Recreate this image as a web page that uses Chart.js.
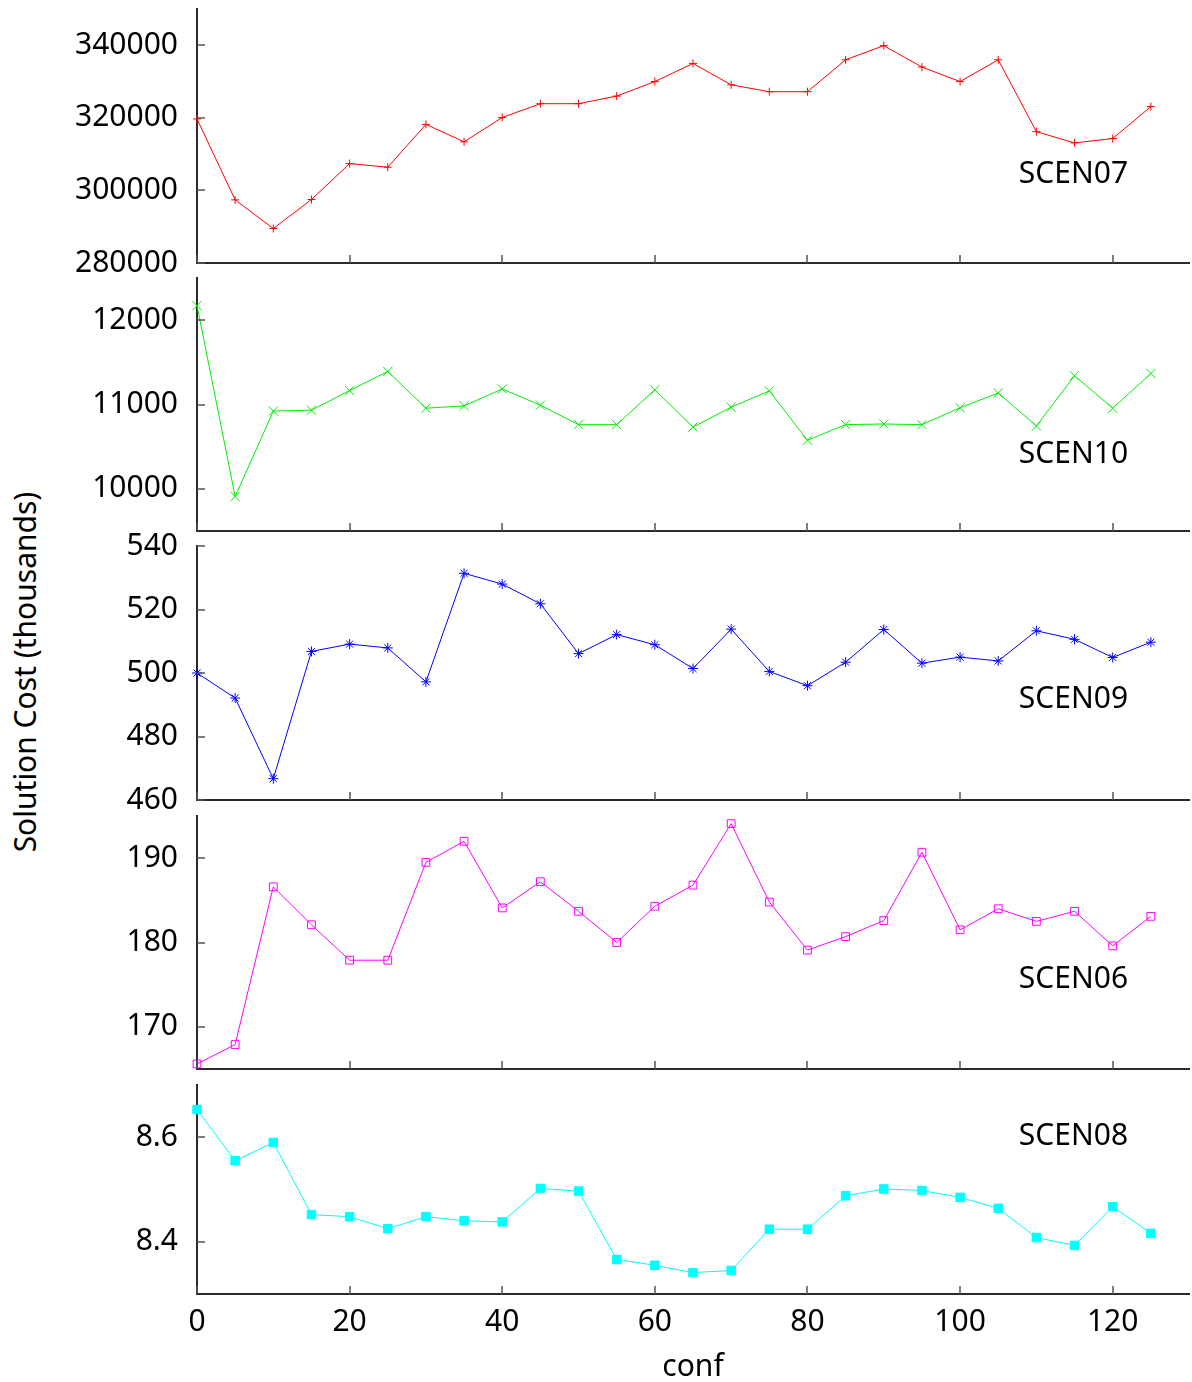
<!DOCTYPE html>
<html>
<head>
<meta charset="utf-8">
<title>Solution cost per configuration</title>
<script src="https://cdn.jsdelivr.net/npm/chart.js@4/dist/chart.umd.min.js"></script>
<style>
  html, body { margin: 0; padding: 0; background: #fff; overflow: hidden; }
  #wrap { position: relative; width: 1192px; height: 1382px; }
  #wrap canvas { position: absolute; left: 0; }
  #ytitle {
    position: absolute; left: 24px; top: 672px;
    transform: translate(-50%, -50%) rotate(-90deg);
    white-space: nowrap; line-height: 1; color: #000;
    font: 30px 'Noto Sans', 'Open Sans', sans-serif;
  }
</style>
</head>
<body>
<div id="wrap"><div id="ytitle">Solution Cost (thousands)</div></div>
<script>
// configuration index on the x axis
const conf = [0, 5, 10, 15, 20, 25, 30, 35, 40, 45, 50, 55, 60, 65, 70, 75, 80, 85, 90, 95, 100, 105, 110, 115, 120, 125];

// solution cost (thousands) per scenario
const scen07 = [319700, 297400, 289500, 297500, 307400, 306400, 318200, 313400, 320100, 323900, 323900, 326000, 330000,
                335000, 329100, 327200, 327200, 336000, 339900, 334000, 330000, 336000, 316200, 313100, 314300, 323100];
const scen10 = [12173, 9909, 10922, 10933, 11165, 11392, 10956, 10984, 11184, 10992, 10761, 10761, 11173,
                10733, 10968, 11161, 10576, 10761, 10769, 10761, 10961, 11137, 10745, 11341, 10956, 11368];
const scen09 = [500.0, 492.1, 466.7, 506.8, 509.1, 507.9, 497.2, 531.4, 528.0, 521.8, 506.1, 512.1, 508.9,
                501.4, 513.8, 500.5, 496.0, 503.4, 513.7, 503.1, 505.0, 503.8, 513.3, 510.6, 504.9, 509.7];
const scen06 = [165.6, 167.9, 186.6, 182.1, 177.9, 177.9, 189.5, 192.0, 184.1, 187.2, 183.7, 180.0, 184.3,
                186.8, 194.1, 184.8, 179.1, 180.7, 182.6, 190.7, 181.5, 184.0, 182.5, 183.7, 179.6, 183.1];
const scen08 = [8.653, 8.555, 8.590, 8.452, 8.448, 8.425, 8.448, 8.440, 8.438, 8.502, 8.497, 8.366, 8.355,
                8.341, 8.345, 8.424, 8.424, 8.488, 8.501, 8.498, 8.485, 8.464, 8.408, 8.393, 8.467, 8.416];

// tick values
const confTicks = [0, 20, 40, 60, 80, 100, 120];
const ticks07 = [280000, 300000, 320000, 340000];
const ticks10 = [10000, 11000, 12000];
const ticks09 = [460, 480, 500, 520, 540];
const ticks06 = [170, 180, 190];
const ticks08 = [8.4, 8.6];

const FONT = "'Noto Sans', 'Open Sans', sans-serif";
Chart.defaults.font.family = FONT;
Chart.defaults.font.size = 30;
Chart.defaults.color = '#000';

// panel layout: plot-area top/bottom in page pixels, plus styling per scenario
const panels = [
  { name: 'SCEN07', values: scen07, ticks: ticks07, min: 280000, max: 350000, top: 9,    bottom: 263,
    color: '#ff0000', style: 'cross',    radius: 4,   filled: false, tag: [107.7, 302000] },
  { name: 'SCEN10', values: scen10, ticks: ticks10, min: 9500,   max: 12500,  top: 278,  bottom: 531,
    color: '#00ee00', style: 'crossRot', radius: 6.5, filled: false, tag: [107.7, 10310] },
  { name: 'SCEN09', values: scen09, ticks: ticks09, min: 460,    max: 540,    top: 546,  bottom: 800,
    color: '#0000ff', style: 'star',     radius: 5,   filled: false, tag: [107.7, 489.1] },
  { name: 'SCEN06', values: scen06, ticks: ticks06, min: 165,    max: 195,    top: 816,  bottom: 1069,
    color: '#ff00ff', style: 'rect',     radius: 5.5, filled: false, tag: [107.7, 174.57] },
  { name: 'SCEN08', values: scen08, ticks: ticks08, min: 8.3,    max: 8.7,    top: 1085, bottom: 1294,
    color: '#00ffff', style: 'rect',     radius: 6,   filled: true,  tag: [107.7, 8.5855], xTitle: 'conf' }
];

const PAD = 40;          // room above/below each plot area for tick labels
const AXIS_W = 197;      // width of the y axis box (left edge of plot)
const XAXIS_H = 91;      // height of the labelled x axis on the last panel

// inward tick marks and the scenario name inside each panel
const innerTicks = {
  id: 'innerTicks',
  afterDatasetsDraw(chart, args, opts) {
    const { ctx, chartArea: a, scales: { x, y } } = chart;
    ctx.save();
    ctx.strokeStyle = '#555';
    ctx.lineWidth = 1.5;
    ctx.beginPath();
    x.ticks.forEach(t => {
      const px = Math.round(x.getPixelForValue(t.value));
      ctx.moveTo(px, a.bottom);
      ctx.lineTo(px, a.bottom - 8);
    });
    y.ticks.forEach(t => {
      const py = Math.round(y.getPixelForValue(t.value));
      ctx.moveTo(a.left, py);
      ctx.lineTo(a.left + 8, py);
    });
    ctx.stroke();
    if (opts.text) {
      ctx.fillStyle = '#000';
      ctx.font = '30px ' + FONT;
      ctx.textAlign = 'left';
      ctx.textBaseline = 'alphabetic';
      ctx.fillText(opts.text, x.getPixelForValue(opts.at[0]), y.getPixelForValue(opts.at[1]));
    }
    ctx.restore();
  }
};

const wrap = document.getElementById('wrap');

panels.forEach((p, i) => {
  const last = i === panels.length - 1;
  const below = last ? XAXIS_H : PAD;
  const canvas = document.createElement('canvas');
  canvas.width = 1192;
  canvas.height = (p.bottom - p.top) + PAD + below;
  canvas.style.top = (p.top - PAD) + 'px';
  canvas.style.width = canvas.width + 'px';
  canvas.style.height = canvas.height + 'px';
  wrap.appendChild(canvas);

  new Chart(canvas, {
    type: 'line',
    data: {
      datasets: [{
        label: p.name,
        data: conf.map((c, k) => ({ x: c, y: p.values[k] })),
        borderColor: p.color,
        borderWidth: 1,
        tension: 0,
        clip: false,
        pointStyle: p.style,
        pointRadius: p.radius,
        pointBorderWidth: 1,
        pointBorderColor: p.color,
        pointBackgroundColor: p.filled ? p.color : 'rgba(0,0,0,0)'
      }]
    },
    options: {
      responsive: false,
      animation: false,
      devicePixelRatio: 1,
      events: [],
      layout: { autoPadding: false, padding: { top: PAD, bottom: last ? 0 : PAD, left: 0, right: 3 } },
      plugins: {
        legend: { display: false },
        tooltip: { enabled: false },
        innerTicks: { text: p.name, at: p.tag }
      },
      scales: {
        x: {
          type: 'linear',
          min: 0,
          max: 130,
          afterBuildTicks: s => { s.ticks = confTicks.map(v => ({ value: v })); },
          afterFit: s => { s.height = last ? XAXIS_H : 0; },
          grid: { display: false, drawTicks: false },
          border: { display: true, color: '#2a2a2a', width: 2 },
          ticks: { display: last, padding: 10, maxRotation: 0, autoSkip: false, callback: v => String(v) },
          title: { display: !!p.xTitle, text: p.xTitle || '', padding: { top: 9, bottom: 0 } }
        },
        y: {
          type: 'linear',
          min: p.min,
          max: p.max,
          afterBuildTicks: s => { s.ticks = p.ticks.map(v => ({ value: v })); },
          afterFit: s => { s.width = AXIS_W; },
          grid: { display: false, drawTicks: false },
          border: { display: true, color: '#2a2a2a', width: 2 },
          ticks: { padding: 19, autoSkip: false, callback: v => String(v) }
        }
      }
    },
    plugins: [innerTicks]
  });
});
</script>
</body>
</html>
